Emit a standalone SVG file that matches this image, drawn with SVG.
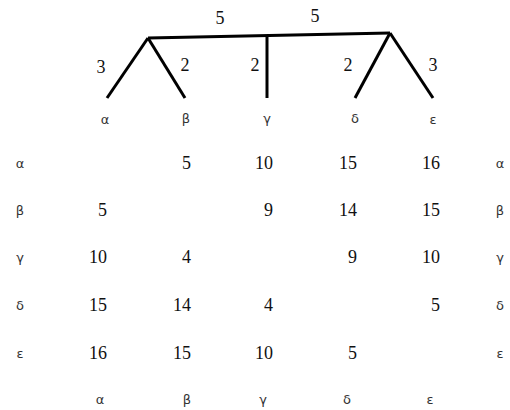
<svg xmlns="http://www.w3.org/2000/svg" width="510" height="410" viewBox="0 0 510 410">
<style>
.e{stroke:#000;stroke-width:3;fill:none;stroke-linecap:butt}
.n{font-family:"Liberation Serif","DejaVu Serif",serif;font-size:18px;fill:#111}
.w{font-family:"Liberation Serif","DejaVu Serif",serif;font-size:18px;fill:#111;text-anchor:middle}
.g{font-family:"DejaVu Sans","Liberation Sans",sans-serif;font-size:13px;fill:#333;text-anchor:middle}
.r{text-anchor:end}
</style>
<rect width="510" height="410" fill="#fff"/>
<g id="connectors">
<path class="e" d="M148,38 L390,33"/>
<path class="e" d="M267,36 L267,98"/>
<path class="e" d="M148,38 L107,98"/>
<path class="e" d="M148,38 L185,98"/>
<path class="e" d="M390,33 L355,98"/>
<path class="e" d="M390,33 L433,98"/>
</g>
<g id="edge-labels">
<text class="w" x="220" y="24">5</text>
<text class="w" x="315" y="22">5</text>
<text class="w" x="101" y="73">3</text>
<text class="w" x="185" y="71">2</text>
<text class="w" x="255" y="71">2</text>
<text class="w" x="348" y="71">2</text>
<text class="w" x="433" y="71">3</text>
</g>
<g id="leaf-alpha"><text class="g" x="105" y="124">α</text></g>
<g id="leaf-beta"><text class="g" x="186" y="123">β</text></g>
<g id="leaf-gamma"><text class="g" x="267" y="123">γ</text></g>
<g id="leaf-delta"><text class="g" x="355" y="123">δ</text></g>
<g id="leaf-epsilon"><text class="g" x="433" y="124">ε</text></g>
<g id="matrix">
<g class="g">
<text x="20" y="168">α</text><text x="500" y="168">α</text>
<text x="20" y="215">β</text><text x="500" y="215">β</text>
<text x="20" y="262">γ</text><text x="500" y="262">γ</text>
<text x="20" y="310">δ</text><text x="500" y="310">δ</text>
<text x="20" y="358">ε</text><text x="500" y="358">ε</text>
<text x="100" y="404">α</text><text x="187" y="404">β</text><text x="263" y="404">γ</text><text x="347" y="404">δ</text><text x="430" y="404">ε</text>
</g>
<g class="n r">
<text x="191" y="169">5</text><text x="273" y="169">10</text><text x="357" y="169">15</text><text x="440" y="169">16</text>
<text x="107" y="216">5</text><text x="273" y="216">9</text><text x="357" y="216">14</text><text x="440" y="216">15</text>
<text x="107" y="263">10</text><text x="191" y="263">4</text><text x="357" y="263">9</text><text x="440" y="263">10</text>
<text x="107" y="311">15</text><text x="191" y="311">14</text><text x="273" y="311">4</text><text x="440" y="311">5</text>
<text x="107" y="359">16</text><text x="191" y="359">15</text><text x="273" y="359">10</text><text x="357" y="359">5</text>
</g>
</g>
</svg>
